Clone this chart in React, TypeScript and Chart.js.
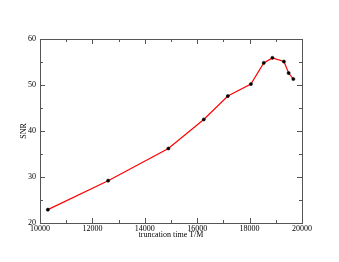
import React, { useEffect, useRef } from "react";
import { Chart, registerables } from "chart.js";

Chart.register(...registerables);

const truncationTime = [10300, 12600, 14900, 16250, 17170, 18050, 18540, 18870, 19310, 19490, 19670];
const snr = [22.9, 29.2, 36.2, 42.5, 47.6, 50.2, 54.8, 55.9, 55.1, 52.6, 51.3];
const xRange = [10000, 20000];
const yRange = [20, 60];
const xLabel = "truncation time T/M";
const yLabel = "SNR";

const FONT = "'Liberation Serif', 'DejaVu Serif', serif";

const frameTicks = {
  id: "frameTicks",
  afterDraw(chart: any) {
    const { ctx, chartArea: a } = chart;
    const xs = chart.scales.x;
    const ys = chart.scales.y;
    ctx.save();
    ctx.strokeStyle = "#555";
    ctx.lineWidth = 1;
    ctx.strokeRect(Math.round(a.left) + 0.5, Math.round(a.top) + 0.5, Math.round(a.right - a.left), Math.round(a.bottom - a.top));
    const major = 5, minor = 3;
    const xt = xs.ticks.map((t: any) => t.value);
    const yt = ys.ticks.map((t: any) => t.value);
    ctx.beginPath();
    const drawX = (v: number, len: number) => {
      const p = Math.round(xs.getPixelForValue(v)) + 0.5;
      ctx.moveTo(p, a.bottom); ctx.lineTo(p, a.bottom - len);
      ctx.moveTo(p, a.top); ctx.lineTo(p, a.top + len);
    };
    const drawY = (v: number, len: number) => {
      const p = Math.round(ys.getPixelForValue(v)) + 0.5;
      ctx.moveTo(a.left, p); ctx.lineTo(a.left + len, p);
      ctx.moveTo(a.right, p); ctx.lineTo(a.right - len, p);
    };
    xt.forEach((v: number, i: number) => {
      drawX(v, major);
      if (i < xt.length - 1) drawX((v + xt[i + 1]) / 2, minor);
    });
    yt.forEach((v: number, i: number) => {
      drawY(v, major);
      if (i < yt.length - 1) drawY((v + yt[i + 1]) / 2, minor);
    });
    ctx.stroke();
    ctx.restore();
  },
};

export default function App() {
  const ref = useRef<HTMLCanvasElement>(null);
  useEffect(() => {
    document.body.style.margin = "0";
    const chart = new Chart(ref.current!, {
      type: "scatter",
      data: {
        datasets: [
          {
            data: truncationTime.map((x, i) => ({ x, y: snr[i] })),
            showLine: true,
            borderColor: "#ff0000",
            borderWidth: 1.2,
            pointBackgroundColor: "#000",
            pointBorderColor: "#000",
            pointRadius: 1.6,
            pointBorderWidth: 0.5,
            tension: 0,
          },
        ],
      },
      options: {
        animation: false,
        responsive: false,
        layout: { padding: { top: 39, right: 37, left: 19, bottom: 22 } },
        plugins: { legend: { display: false }, tooltip: { enabled: false } },
        scales: {
          x: {
            type: "linear",
            min: xRange[0],
            max: xRange[1],
            grid: { display: false, drawTicks: false, tickLength: 0 },
            border: { display: false },
            ticks: {
              stepSize: 2000,
              color: "#000",
              font: { family: FONT, size: 8 },
              padding: 1,
              maxRotation: 0,
              autoSkip: false,
              callback: (v: any) => String(v),
            },
            title: { display: true, text: xLabel, color: "#000", font: { family: FONT, size: 8 }, padding: { top: 0, bottom: 0 } },
            afterFit: (s: any) => { s.height = 17; },
          },
          y: {
            type: "linear",
            min: yRange[0],
            max: yRange[1],
            grid: { display: false, drawTicks: false, tickLength: 0 },
            border: { display: false },
            ticks: { stepSize: 10, color: "#000", font: { family: FONT, size: 8 }, padding: 4, callback: (v: any) => String(v) },
            title: { display: true, text: yLabel, color: "#000", font: { family: FONT, size: 8 }, padding: { top: 0, bottom: 4 } },
            afterFit: (s: any) => { s.width = 21; },
          },
        },
      },
      plugins: [frameTicks],
    });
    return () => chart.destroy();
  }, []);
  return (
    <div style={{ width: 339, height: 262, background: "#fff" }}>
      <canvas ref={ref} width={339} height={262} style={{ display: "block" }} />
    </div>
  );
}
